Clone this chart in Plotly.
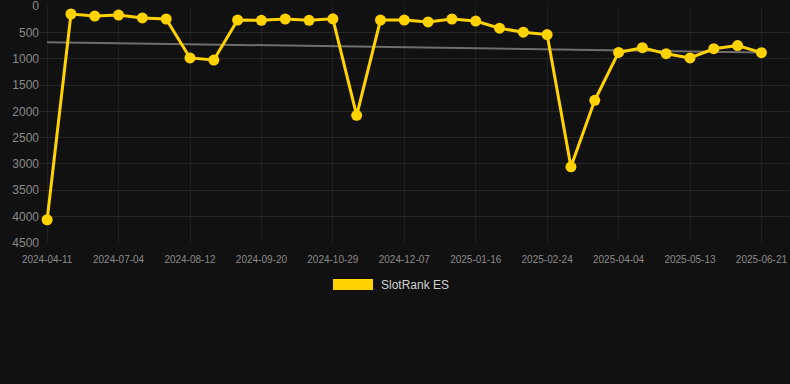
import plotly.graph_objects as go

dates = [
    "2024-04-11", "2024-06-08", "2024-06-21", "2024-07-04", "2024-07-17", "2024-07-30",
    "2024-08-12", "2024-08-25", "2024-09-07", "2024-09-20", "2024-10-03", "2024-10-16",
    "2024-10-29", "2024-11-11", "2024-11-24", "2024-12-07", "2024-12-20", "2025-01-03",
    "2025-01-16", "2025-01-29", "2025-02-11", "2025-02-24", "2025-03-09", "2025-03-22",
    "2025-04-04", "2025-04-17", "2025-04-30", "2025-05-13", "2025-05-26", "2025-06-08",
    "2025-06-21",
]
rank = [
    4060, 150, 190, 170, 225, 245,
    985, 1025, 265, 270, 245, 270,
    242, 2075, 265, 265, 300, 245,
    285, 420, 495, 540, 3055, 1790,
    880, 790, 905, 985, 810, 750,
    885,
]
trend_x = ["2024-04-11", "2025-06-21"]
trend_y = [685, 880]
tick_labels = [
    "2024-04-11", "2024-07-04", "2024-08-12", "2024-09-20", "2024-10-29", "2024-12-07",
    "2025-01-16", "2025-02-24", "2025-04-04", "2025-05-13", "2025-06-21",
]
y_ticks = [0, 500, 1000, 1500, 2000, 2500, 3000, 3500, 4000, 4500]
series_name = "SlotRank ES"

gold = "#FFD200"
bg = "#111111"

fig = go.Figure()
fig.add_trace(go.Scatter(
    x=trend_x, y=trend_y, mode="lines",
    line=dict(color="#6e6e6e", width=2), showlegend=False, hoverinfo="skip",
))
fig.add_trace(go.Scatter(
    x=dates, y=rank, mode="lines+markers", name=series_name,
    line=dict(color=gold, width=3),
    marker=dict(color=gold, size=11),
    showlegend=False,
))

fig.update_layout(
    width=790, height=384,
    paper_bgcolor=bg, plot_bgcolor=bg,
    margin=dict(l=40, r=0, t=6, b=141),
    font=dict(family="Arial, Liberation Sans, sans-serif", color="#8a8a8a"),
    xaxis=dict(
        type="category", categoryorder="array", categoryarray=dates,
        tickmode="array", tickvals=tick_labels, ticktext=tick_labels,
        range=[-0.3, 31.2],
        showgrid=True, gridcolor="#1f1f1f", gridwidth=1,
        zeroline=False, showline=False,
        tickfont=dict(size=10, color="#8a8a8a"),
        ticks="", ticklen=0, ticklabelstandoff=9,
    ),
    yaxis=dict(
        range=[4502, -2], tickmode="array", tickvals=y_ticks,
        showgrid=True, gridcolor="#262626", gridwidth=1,
        zeroline=False, showline=False,
        tickfont=dict(size=12, color="#8a8a8a"),
        ticks="", ticklen=0, ticklabeloverflow="allow",
    ),
    showlegend=False,
)

# legend drawn as a swatch + label
fig.add_shape(type="rect", xref="paper", yref="paper",
              x0=(333 - 40) / 750, x1=(373 - 40) / 750,
              y0=(384 - 141 - 290) / 237, y1=(384 - 141 - 279) / 237,
              fillcolor=gold, line=dict(width=0))
fig.add_annotation(xref="paper", yref="paper",
                   x=(379 - 40) / 750, y=(384 - 141 - 284.5) / 237,
                   xanchor="left", yanchor="middle", showarrow=False,
                   text=series_name, font=dict(size=12, color="#d0d0d0"))

fig.write_html(
    "out.html",
    config={"displayModeBar": False},
    post_script="document.body.style.margin='0';document.body.style.background='#111111';document.body.style.overflow='hidden';",
)
